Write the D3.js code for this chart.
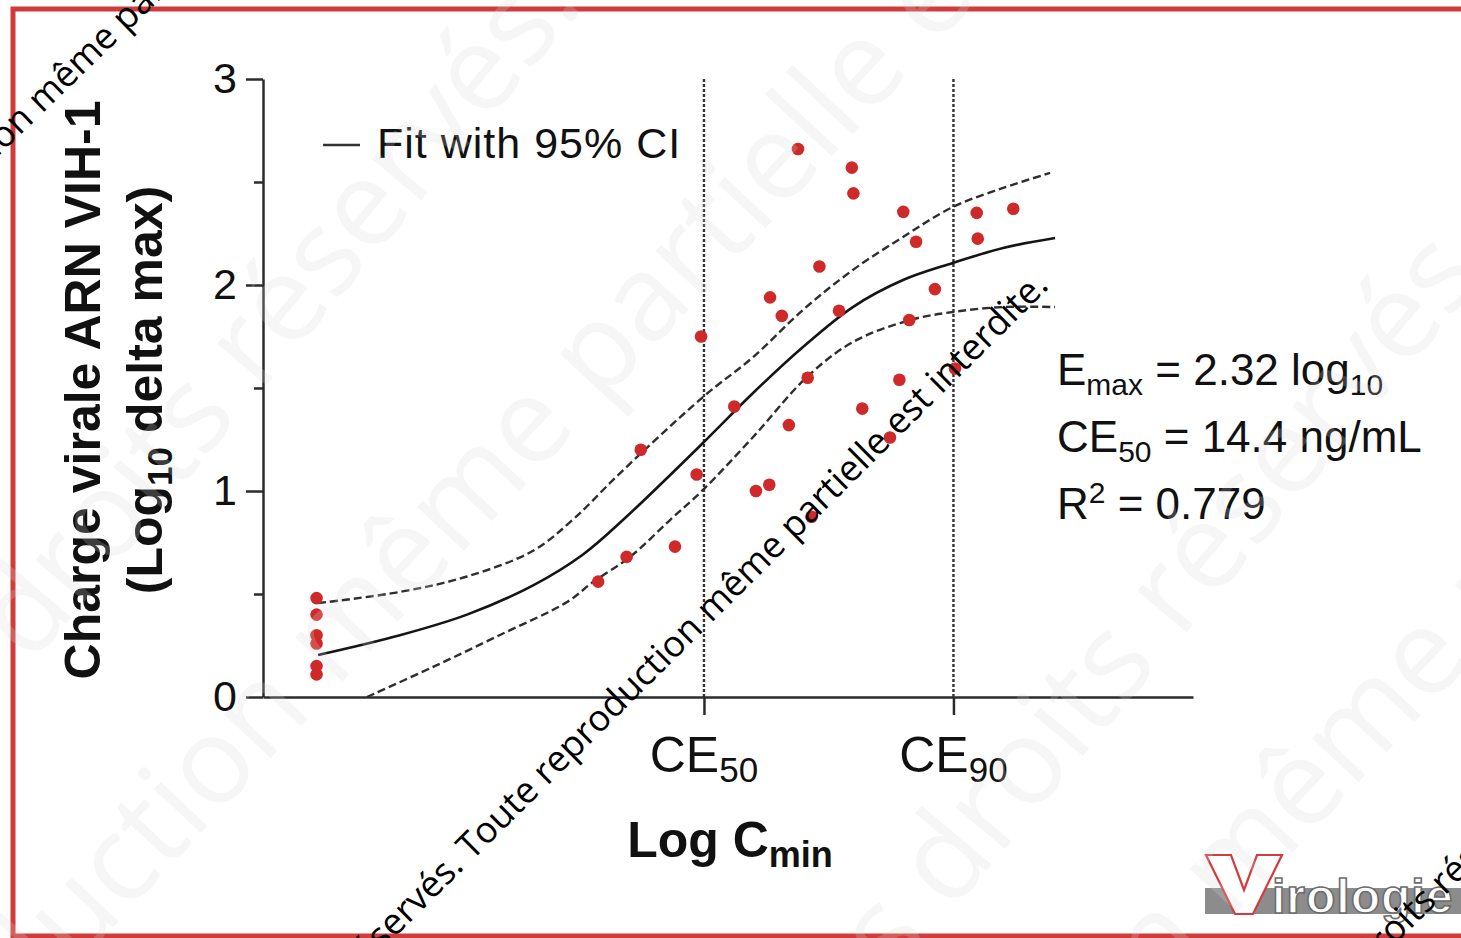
<!DOCTYPE html>
<html>
<head>
<meta charset="utf-8">
<script src="https://cdn.jsdelivr.net/npm/d3@7"></script>
<style>
  html, body { margin: 0; padding: 0; background: #fff; overflow: hidden; }
  svg text { font-family: "Liberation Sans", Arial, sans-serif; }
</style>
</head>
<body>
<svg id="chart" width="1461" height="938"></svg>
<script>
// ---- Data -------------------------------------------------------------
// Log10 Cmin (ng/mL) per patient
const cminLog = [
  -0.325, -0.325, -0.325, -0.325, -0.325, -0.325,
  0.753, 0.862, 0.916, 1.047, 1.130, 1.147, 1.274, 1.357, 1.408, 1.411,
  1.456, 1.483, 1.518, 1.555, 1.570, 1.600, 1.675, 1.724, 1.730, 1.764,
  1.870, 1.906, 1.921, 1.944, 1.970, 2.042, 2.119, 2.202, 2.206, 2.342
];
// Maximal drop of HIV-1 RNA (log10)
const deltaVL = [
  0.48, 0.40, 0.30, 0.26, 0.15, 0.11,
  0.56, 0.68, 1.20, 0.73, 1.08, 1.75, 1.41, 1.00, 1.03, 1.94,
  1.85, 1.32, 2.66, 1.55, 0.875, 2.09, 1.875, 2.57, 2.445, 1.40,
  1.26, 1.54, 2.355, 1.83, 2.21, 1.98, 1.595, 2.35, 2.225, 2.37
];

// Emax model fit
const fitX = [-0.319, -0.006, 0.251, 0.504, 0.695, 0.856, 1.154, 1.346, 1.537, 1.728, 1.920, 2.111, 2.303, 2.502];
const fitY = [0.204, 0.300, 0.400, 0.542, 0.692, 0.869, 1.233, 1.476, 1.699, 1.893, 2.024, 2.107, 2.180, 2.228];
// 95% confidence band
const ciUpperX = [-0.319, -0.006, 0.251, 0.504, 0.657, 0.837, 1.154, 1.346, 1.537, 1.728, 1.920, 2.111, 2.303, 2.483];
const ciUpperY = [0.456, 0.510, 0.585, 0.710, 0.862, 1.087, 1.456, 1.650, 1.879, 2.073, 2.233, 2.379, 2.471, 2.544];
const ciLowerX = [-0.132, 0.121, 0.377, 0.634, 0.733, 0.875, 1.028, 1.154, 1.346, 1.552, 1.728, 1.947, 2.111, 2.303, 2.502];
const ciLowerY = [0.000, 0.146, 0.301, 0.461, 0.558, 0.680, 0.859, 1.005, 1.262, 1.553, 1.723, 1.830, 1.869, 1.893, 1.893];

// Axis ticks
const yTicks = [0, 1, 2, 3];
const yMinorTicks = [0.5, 1.5, 2.5];
const xTickValues = [1.158, 2.113];          // log10 of CE50 and CE90
const xTickLabels = [["CE", "50"], ["CE", "90"]];

// Fit statistics
const statLines = [
  { main: "E", sub: "max", rest: " = 2.32 log", sub2: "10" },
  { main: "CE", sub: "50", rest: " = 14.4 ng/mL" },
  { main: "R", sup: "2", rest: " = 0.779" }
];

const notice = "Tous droits réservés. Toute reproduction même partielle est interdite.";

// ---- Scales -----------------------------------------------------------
const svg = d3.select("#chart");
svg.append("rect").attr("width", 1461).attr("height", 938).attr("fill", "#fff");

const x = d3.scaleLinear().domain([-0.53, 3.03]).range([263, 1193]);
const y = d3.scaleLinear().domain([0, 3]).range([697, 79]);

const ink = "#2b2b2b";

// ---- Frame ------------------------------------------------------------
svg.append("rect")
  .attr("x", 13).attr("y", 9).attr("width", 1470).attr("height", 927)
  .attr("fill", "none").attr("stroke", "#d13b3b").attr("stroke-width", 5);

// ---- Reference lines at CE50 / CE90 -----------------------------------
svg.append("g").selectAll("line").data(xTickValues).join("line")
  .attr("x1", d => x(d)).attr("x2", d => x(d))
  .attr("y1", y(3)).attr("y2", y(0))
  .attr("stroke", "#333").attr("stroke-width", 2.4)
  .attr("stroke-dasharray", "3,2");

// ---- Axes -------------------------------------------------------------
const yAxis = svg.append("g").attr("transform", `translate(${x(-0.53)},0)`)
  .call(d3.axisLeft(y).tickValues(yTicks).tickSize(17).tickSizeOuter(0).tickPadding(9).tickFormat(d3.format("d")));
svg.append("g").attr("transform", `translate(${x(-0.53)},0)`)
  .call(d3.axisLeft(y).tickValues(yMinorTicks).tickSize(9).tickSizeOuter(0).tickFormat(""))
  .select(".domain").remove();
svg.append("g").attr("transform", `translate(0,${y(0)})`)
  .call(d3.axisBottom(x).tickValues(xTickValues).tickSize(18).tickSizeOuter(0).tickFormat(""));

svg.selectAll(".domain, .tick line").attr("stroke", ink).attr("stroke-width", 2.5);
yAxis.selectAll(".tick text")
  .attr("font-size", 43).attr("fill", "#111")
  .attr("font-family", "Liberation Sans, Arial, sans-serif");

// x tick labels with subscripts
const xl = svg.append("g").selectAll("text").data(xTickValues).join("text")
  .attr("x", d => x(d)).attr("y", 772)
  .attr("text-anchor", "middle").attr("font-size", 50).attr("fill", "#111");
xl.append("tspan").text((d, i) => xTickLabels[i][0]);
xl.append("tspan").attr("font-size", 35).attr("dy", 10).text((d, i) => xTickLabels[i][1]);

// x axis title
const xt = svg.append("text").attr("x", 730).attr("y", 857).attr("text-anchor", "middle")
  .attr("font-size", 50).attr("font-weight", "bold").attr("fill", "#111");
xt.append("tspan").text("Log C");
xt.append("tspan").attr("font-size", 36).attr("dy", 10).text("min");

// y axis title (two lines)
svg.append("text").attr("transform", "translate(100,390) rotate(-90)")
  .attr("text-anchor", "middle").attr("font-size", 50).attr("font-weight", "bold").attr("fill", "#111")
  .text("Charge virale ARN VIH-1");
const yt2 = svg.append("text").attr("transform", "translate(162,390) rotate(-90)")
  .attr("text-anchor", "middle").attr("font-size", 50).attr("font-weight", "bold").attr("fill", "#111");
yt2.append("tspan").text("(Log");
yt2.append("tspan").attr("font-size", 35).attr("dy", 10).text("10");
yt2.append("tspan").attr("dy", -10).text(" delta max)");

// ---- Fit and confidence band ------------------------------------------
const line = d3.line().x(d => x(d[0])).y(d => y(d[1])).curve(d3.curveCatmullRom.alpha(0.5));
const zip = (a, b) => a.map((v, i) => [v, b[i]]);

svg.append("path").datum(zip(ciUpperX, ciUpperY)).attr("d", line)
  .attr("fill", "none").attr("stroke", "#2e2e2e").attr("stroke-width", 2.4).attr("stroke-dasharray", "8,4");
svg.append("path").datum(zip(ciLowerX, ciLowerY)).attr("d", line)
  .attr("fill", "none").attr("stroke", "#2e2e2e").attr("stroke-width", 2.4).attr("stroke-dasharray", "8,4");
svg.append("path").datum(zip(fitX, fitY)).attr("d", line)
  .attr("fill", "none").attr("stroke", "#151515").attr("stroke-width", 2.6);

// ---- Patients ---------------------------------------------------------
svg.append("g").selectAll("circle").data(zip(cminLog, deltaVL)).join("circle")
  .attr("cx", d => x(d[0])).attr("cy", d => y(d[1])).attr("r", 6.3)
  .attr("fill", "#cf2a2a");

// ---- Legend -----------------------------------------------------------
svg.append("line").attr("x1", 323).attr("x2", 360).attr("y1", 145).attr("y2", 145)
  .attr("stroke", "#333").attr("stroke-width", 2.5);
svg.append("text").attr("x", 377).attr("y", 158).attr("font-size", 43).attr("fill", "#111")
  .attr("letter-spacing", 1)
  .text("Fit with 95% CI");

// ---- Fit statistics ---------------------------------------------------
const st = svg.append("g").selectAll("text").data(statLines).join("text")
  .attr("x", 1057).attr("y", (d, i) => 385 + i * 67)
  .attr("font-size", 44).attr("fill", "#111");
st.append("tspan").text(d => d.main);
st.filter(d => d.sub).append("tspan").attr("font-size", 30).attr("dy", 10).text(d => d.sub);
st.filter(d => d.sup).append("tspan").attr("font-size", 30).attr("dy", -16).text(d => d.sup);
st.append("tspan").attr("dy", d => d.sub ? -10 : 16).text(d => d.rest);
st.filter(d => d.sub2).append("tspan").attr("font-size", 30).attr("dy", 10).text(d => d.sub2);

// ---- Virologie logo ---------------------------------------------------
const logo = svg.append("g");
logo.append("rect").attr("x", 1205).attr("y", 888).attr("width", 260).attr("height", 26).attr("fill", "#8c8c8c");
logo.append("path")
  .attr("d", "M1206,855 L1231,855 L1244,890 L1257,855 L1282,855 L1253,914 L1235,914 Z")
  .attr("fill", "#fff").attr("stroke", "#d63a3a").attr("stroke-width", 2.2).attr("stroke-linejoin", "miter");
logo.append("text").attr("x", 1272).attr("y", 913).attr("font-size", 48).attr("font-weight", "bold")
  .attr("fill", "#fff").attr("stroke", "#6d6d6d").attr("stroke-width", 1.6).attr("letter-spacing", 1)
  .text("irologie");

// ---- Copyright notice -------------------------------------------------
const wm = svg.append("g").attr("pointer-events", "none");

function placeNotice(anchorStr, atEnd, px, py, size, angle, fill, opacity, family) {
  const g = wm.append("g").attr("transform", `translate(${px},${py}) rotate(${angle})`);
  const t = g.append("text").attr("font-size", size).attr("fill", fill).attr("opacity", opacity)
    .style("font-family", family).text(notice);
  let idx = notice.indexOf(anchorStr);
  if (atEnd) idx += anchorStr.length;
  const off = idx > 0 ? t.node().getSubStringLength(0, idx) : 0;
  t.attr("x", -off);
  return t;
}

// size of the small notice so that "ervés. … interdite." spans its run
const probe = svg.append("text").attr("font-size", 100).style("font-family", "Open Sans").text(notice);
const i0 = notice.indexOf("ervés");
const runLen = probe.node().getSubStringLength(i0, notice.length - i0);
probe.remove();
const small = 100 * 925 / runLen;

// faint large repeats
const faintFill = "#d9d9d9", faintOp = 0.22;
placeNotice("partielle", false, 600, 405, 120, -47, faintFill, faintOp, "Open Sans");
placeNotice("réservés.", true, 585, 5, 120, -50, faintFill, faintOp, "Open Sans");
placeNotice("réservés", false, 1180, 640, 120, -50, faintFill, faintOp, "Open Sans");
placeNotice("même", false, 1230, 920, 120, -47, faintFill, faintOp, "Open Sans");

// small dark lines
placeNotice("interdite.", true, 1050, 287, small, -44.8, "#000", 1, "Open Sans");
placeNotice("même", false, 42, 114, small, -44, "#000", 1, "Open Sans");
placeNotice("oits", false, 1394, 945, small, -44, "#000", 1, "Open Sans");
</script>
</body>
</html>
